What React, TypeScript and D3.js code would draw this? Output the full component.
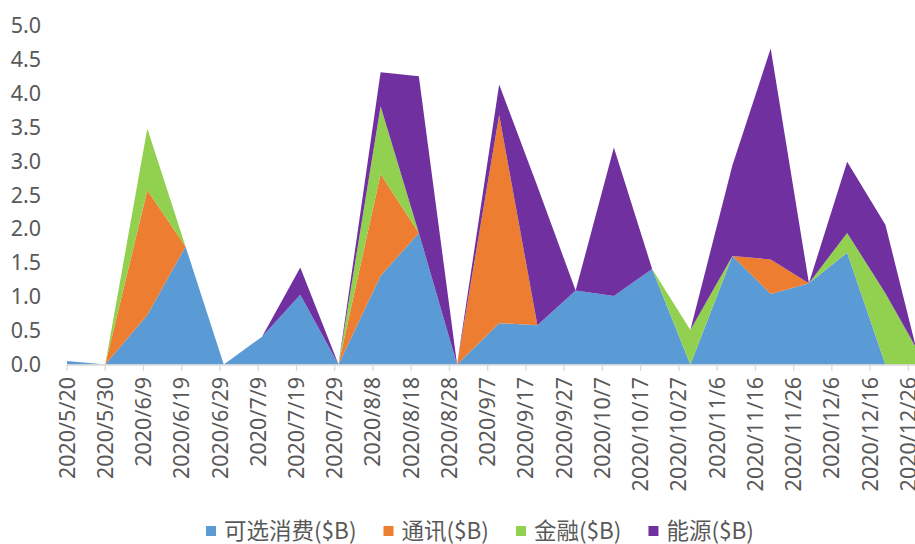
import React, { useEffect, useRef } from "react";
import * as d3 from "d3";

// Observation dates (yyyy/m/d)
const dates = [
  "2020/5/20", "2020/5/30", "2020/6/10", "2020/6/20", "2020/6/30",
  "2020/7/10", "2020/7/20", "2020/7/30", "2020/8/10", "2020/8/20",
  "2020/8/30", "2020/9/10", "2020/9/20", "2020/9/30", "2020/10/10",
  "2020/10/20", "2020/10/30", "2020/11/10", "2020/11/20", "2020/11/30",
  "2020/12/10", "2020/12/20", "2020/12/28",
];

// Series values in $B
const discretionary = [0.05, 0, 0.73, 1.74, 0, 0.41, 1.03, 0, 1.31, 1.94, 0, 0.61, 0.58, 1.09, 1.01, 1.41, 0, 1.6, 1.04, 1.2, 1.65, 0, 0];
const telecom = [0, 0, 1.84, 0, 0, 0, 0, 0, 1.5, 0, 0, 3.07, 0, 0, 0, 0, 0, 0, 0.51, 0, 0, 0, 0];
const financials = [0, 0, 0.91, 0, 0, 0, 0, 0, 1.0, 0, 0, 0, 0, 0, 0, 0, 0.51, 0, 0, 0, 0.29, 1.05, 0.25];
const energy = [0, 0, 0, 0, 0, 0, 0.4, 0, 0.5, 2.31, 0, 0.45, 2.05, 0, 2.19, 0, 0, 1.34, 3.11, 0, 1.05, 1.01, 0];

const seriesNames = ["可选消费($B)", "通讯($B)", "金融($B)", "能源($B)"];
const seriesColors = ["#5B9BD5", "#ED7D31", "#92D050", "#7030A0"];

// Category axis labels, every 10 days
const xTickLabels = [
  "2020/5/20", "2020/5/30", "2020/6/9", "2020/6/19", "2020/6/29",
  "2020/7/9", "2020/7/19", "2020/7/29", "2020/8/8", "2020/8/18",
  "2020/8/28", "2020/9/7", "2020/9/17", "2020/9/27", "2020/10/7",
  "2020/10/17", "2020/10/27", "2020/11/6", "2020/11/16", "2020/11/26",
  "2020/12/6", "2020/12/16", "2020/12/26",
];
const yTickValues = [0, 0.5, 1, 1.5, 2, 2.5, 3, 3.5, 4, 4.5, 5];

const parseDate = (s: string) => {
  const [yy, mm, dd] = s.split("/").map(Number);
  return new Date(Date.UTC(yy, mm - 1, dd));
};

const WIDTH = 915;
const HEIGHT = 544;
const TEXT = "#595959";
const AXIS = "#D9D9D9";
const NUM_FONT = "'Noto Sans', 'Open Sans', sans-serif";
const CJK_FONT = "'Noto Sans CJK SC', 'Noto Sans', sans-serif";

export default function App() {
  const ref = useRef<SVGSVGElement>(null);

  useEffect(() => {
    const svg = d3.select(ref.current);
    svg.selectAll("*").remove();

    const keys = ["s0", "s1", "s2", "s3"];
    const rows = dates.map((d, i) => ({
      date: parseDate(d),
      s0: discretionary[i],
      s1: telecom[i],
      s2: financials[i],
      s3: energy[i],
    }));

    const x = d3
      .scaleUtc()
      .domain([parseDate(dates[0]), parseDate(dates[dates.length - 1])])
      .range([67, 916]);
    const y = d3.scaleLinear().domain([0, 5]).range([364.5, 25.5]);

    const stacked = d3.stack<any>().keys(keys)(rows);
    const area = d3
      .area<any>()
      .x((d) => x(d.data.date))
      .y0((d) => y(d[0]))
      .y1((d) => y(d[1]));

    svg
      .append("g")
      .selectAll("path")
      .data(stacked)
      .join("path")
      .attr("d", area as any)
      .attr("fill", (_d, i) => seriesColors[i]);

    // Horizontal axis
    const xAxis = svg.append("g");
    xAxis
      .append("line")
      .attr("x1", x(parseDate(dates[0])))
      .attr("x2", WIDTH)
      .attr("y1", 365)
      .attr("y2", 365)
      .attr("stroke", AXIS)
      .attr("stroke-width", 1.3);

    const ticks = xTickLabels.map((t) => ({ label: t, pos: x(parseDate(t)) }));
    xAxis
      .selectAll("line.tick")
      .data(ticks)
      .join("line")
      .attr("class", "tick")
      .attr("x1", (d) => d.pos)
      .attr("x2", (d) => d.pos)
      .attr("y1", 365)
      .attr("y2", 371)
      .attr("stroke", AXIS)
      .attr("stroke-width", 1.3);

    xAxis
      .selectAll("text")
      .data(ticks)
      .join("text")
      .attr("transform", (d) => `translate(${d.pos},377) rotate(-90)`)
      .attr("text-anchor", "end")
      .attr("dy", "0.35em")
      .attr("font-family", NUM_FONT)
      .attr("font-size", 21.5)
      .attr("fill", TEXT)
      .text((d) => d.label);

    // Vertical axis labels
    svg
      .append("g")
      .selectAll("text")
      .data(yTickValues)
      .join("text")
      .attr("x", 41)
      .attr("y", (d) => y(d))
      .attr("dy", "0.35em")
      .attr("text-anchor", "end")
      .attr("font-family", NUM_FONT)
      .attr("font-size", 21.5)
      .attr("fill", TEXT)
      .text((d) => d.toFixed(1));

    // Legend
    const legend = svg.append("g");
    let cx = 206;
    const cy = 531;
    seriesNames.forEach((name, i) => {
      legend
        .append("rect")
        .attr("x", cx)
        .attr("y", cy - 5)
        .attr("width", 10)
        .attr("height", 10)
        .attr("fill", seriesColors[i]);
      const t = legend
        .append("text")
        .attr("x", cx + 18)
        .attr("y", cy)
        .attr("dy", "0.35em")
        .attr("font-family", CJK_FONT)
        .attr("font-size", 22.5)
        .attr("fill", TEXT)
        .text(name);
      const w = (t.node() as SVGTextElement).getComputedTextLength();
      cx += 18 + w + 27;
    });
  }, []);

  return (
    <div style={{ position: "absolute", left: 0, top: 0 }}>
      <svg ref={ref} width={WIDTH} height={HEIGHT} style={{ display: "block", background: "#fff" }} />
    </div>
  );
}
